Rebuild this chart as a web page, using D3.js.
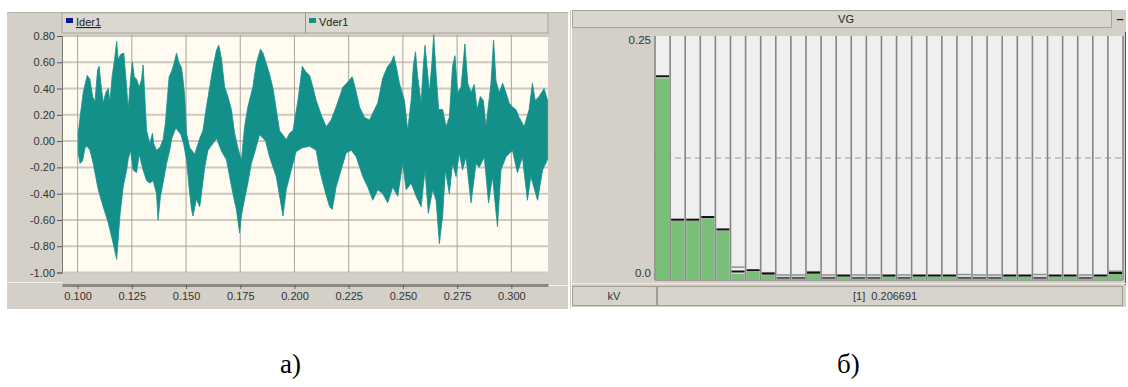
<!DOCTYPE html>
<html><head><meta charset="utf-8">
<script src="https://cdn.jsdelivr.net/npm/d3@7"></script>
<style>body{margin:0;background:#fff;} svg{display:block;font-family:"Liberation Sans",Arial,sans-serif;}</style>
</head><body><svg id="c" width="1128" height="387"></svg>
<script>
// ---------- left chart (a): waveform envelope ----------
const upperT=[0.1003,0.1011,0.1026,0.1044,0.1057,0.1069,0.1080,0.1092,0.1099,0.1107,0.1118,0.1130,0.1141,0.1149,0.1159,0.1172,0.1180,0.1187,0.1198,0.1213,0.1226,0.1233,0.1245,0.1253,0.1261,0.1272,0.1284,0.1295,0.1302,0.1310,0.1318,0.1333,0.1345,0.1351,0.1364,0.1379,0.1394,0.1405,0.1413,0.1422,0.1433,0.1443,0.1456,0.1466,0.1479,0.1486,0.1494,0.1502,0.1517,0.1540,0.1563,0.1578,0.1594,0.1609,0.1624,0.1640,0.1651,0.1663,0.1678,0.1693,0.1709,0.1724,0.1739,0.1755,0.1770,0.1785,0.1808,0.1824,0.1843,0.1855,0.1870,0.1885,0.1901,0.1916,0.1931,0.1954,0.1962,0.1977,0.1993,0.2016,0.2036,0.2051,0.2070,0.2085,0.2100,0.2123,0.2146,0.2169,0.2192,0.2223,0.2246,0.2266,0.2281,0.2300,0.2323,0.2346,0.2369,0.2384,0.2407,0.2430,0.2446,0.2458,0.2469,0.2484,0.2507,0.2522,0.2538,0.2548,0.2558,0.2568,0.2584,0.2594,0.2602,0.2611,0.2622,0.2634,0.2642,0.2653,0.2665,0.2683,0.2699,0.2714,0.2729,0.2740,0.2752,0.2768,0.2786,0.2799,0.2814,0.2829,0.2842,0.2857,0.2871,0.2883,0.2906,0.2918,0.2929,0.2944,0.2960,0.2975,0.2990,0.3005,0.3021,0.3036,0.3059,0.3082,0.3097,0.3110,0.3128,0.3151,0.3167];
const upperV=[0.06,0.18,0.37,0.50,0.47,0.34,0.30,0.54,0.57,0.44,0.29,0.37,0.40,0.30,0.49,0.64,0.76,0.62,0.66,0.67,0.41,0.24,0.49,0.60,0.49,0.47,0.41,0.47,0.58,0.34,0.08,-0.02,0.06,-0.02,-0.07,-0.05,0.01,0.14,0.31,0.49,0.53,0.58,0.67,0.60,0.56,0.47,0.34,0.06,-0.05,-0.10,0.02,0.08,0.26,0.41,0.56,0.69,0.73,0.63,0.41,0.34,0.24,0.06,-0.05,-0.15,0.11,0.26,0.41,0.59,0.70,0.67,0.59,0.51,0.40,0.24,0.08,0.03,0.01,0.06,0.08,0.31,0.57,0.53,0.50,0.41,0.31,0.20,0.11,0.16,0.26,0.41,0.45,0.49,0.40,0.26,0.18,0.16,0.24,0.29,0.48,0.57,0.60,0.65,0.57,0.44,0.31,0.08,0.31,0.57,0.68,0.49,0.29,0.57,0.73,0.57,0.37,0.60,0.81,0.51,0.24,0.24,0.11,0.18,0.57,0.65,0.37,0.41,0.74,0.44,0.37,0.43,0.24,0.34,0.31,0.11,0.44,0.77,0.46,0.37,0.44,0.37,0.29,0.26,0.24,0.18,0.11,0.24,0.44,0.31,0.34,0.40,0.31];
const lowerT=[0.1003,0.1011,0.1023,0.1034,0.1044,0.1057,0.1072,0.1095,0.1118,0.1141,0.1157,0.1167,0.1180,0.1187,0.1195,0.1210,0.1226,0.1233,0.1244,0.1256,0.1272,0.1284,0.1302,0.1318,0.1333,0.1348,0.1364,0.1371,0.1382,0.1394,0.1410,0.1425,0.1434,0.1453,0.1476,0.1490,0.1502,0.1514,0.1525,0.1532,0.1548,0.1563,0.1571,0.1586,0.1601,0.1623,0.1641,0.1664,0.1686,0.1701,0.1716,0.1732,0.1747,0.1755,0.1770,0.1785,0.1801,0.1816,0.1839,0.1867,0.1885,0.1916,0.1947,0.1962,0.1985,0.2008,0.2037,0.2070,0.2100,0.2116,0.2139,0.2162,0.2174,0.2192,0.2215,0.2238,0.2262,0.2285,0.2315,0.2338,0.2361,0.2384,0.2407,0.2430,0.2453,0.2476,0.2499,0.2515,0.2538,0.2561,0.2584,0.2602,0.2617,0.2637,0.2653,0.2668,0.2683,0.2696,0.2714,0.2729,0.2745,0.2760,0.2775,0.2791,0.2814,0.2837,0.2852,0.2875,0.2895,0.2913,0.2936,0.2952,0.2975,0.3005,0.3028,0.3051,0.3074,0.3090,0.3121,0.3144,0.3167];
const lowerV=[-0.09,-0.17,-0.15,-0.05,-0.04,-0.07,-0.17,-0.37,-0.50,-0.62,-0.73,-0.80,-0.90,-0.75,-0.57,-0.35,-0.22,-0.14,-0.07,-0.22,-0.24,-0.10,-0.22,-0.30,-0.32,-0.30,-0.40,-0.60,-0.42,-0.32,-0.17,-0.07,0.02,0.10,0.05,-0.03,-0.14,-0.35,-0.52,-0.57,-0.44,-0.50,-0.40,-0.20,-0.07,-0.02,0.02,-0.08,-0.14,-0.27,-0.40,-0.52,-0.70,-0.57,-0.44,-0.32,-0.17,-0.09,0.05,0.00,-0.12,-0.27,-0.57,-0.37,-0.22,-0.08,-0.05,-0.04,-0.07,-0.22,-0.37,-0.50,-0.52,-0.35,-0.22,-0.09,-0.07,-0.12,-0.27,-0.35,-0.45,-0.37,-0.40,-0.47,-0.35,-0.42,-0.17,-0.37,-0.32,-0.42,-0.50,-0.22,-0.55,-0.37,-0.45,-0.78,-0.57,-0.22,-0.40,-0.17,-0.27,-0.09,-0.22,-0.12,-0.47,-0.17,-0.20,-0.12,-0.47,-0.27,-0.65,-0.22,-0.12,-0.07,-0.24,-0.12,-0.45,-0.27,-0.45,-0.22,-0.14];
const xTicks=[0.100,0.125,0.150,0.175,0.200,0.225,0.250,0.275,0.300];
const yTicks=[0.8,0.6,0.4,0.2,0.0,-0.2,-0.4,-0.6,-0.8,-1.0];
const legendA=["Ider1","Vder1"];

// ---------- right chart (b): harmonic spectrum ----------
const harmonics=[1,2,3,4,5,6,7,8,9,10,11,12,13,14,15,16,17,18,19,20,21,22,23,24,25,26,27,28,29,30,31];
const harmVal=[0.2067,0.0605,0.0605,0.0632,0.0505,0.0065,0.0085,0.0050,0.0015,0.0015,0.0065,0.0015,0.0038,0.0015,0.0015,0.0038,0.0015,0.0036,0.0036,0.0036,0.0015,0.0015,0.0015,0.0036,0.0036,0.0015,0.0036,0.0036,0.0015,0.0036,0.0062];
const harmMax=[0.2087,0.0618,0.0618,0.0645,0.0518,0.0087,0.0100,0.0065,0.0022,0.0022,0.0075,0.0022,0.0046,0.0022,0.0022,0.0046,0.0022,0.0046,0.0046,0.0046,0.0022,0.0022,0.0022,0.0046,0.0046,0.0022,0.0046,0.0046,0.0022,0.0046,0.0072];
const harmPrev=[null,null,null,null,null,0.0132,null,0.0075,0.0052,0.0052,0.0085,0.0052,null,0.0052,0.0052,null,0.0052,null,null,null,0.0056,0.0052,0.0052,null,null,0.0056,null,null,0.0052,null,0.0090];
const yTicksB=[0.25,0.0];
const yTickLabelsB=["0.25","0.0"];
const unitLabel="kV";
const readout="[1]  0.206691";
const titleB="VG";
const captions=["а)","б)"];

const svg=d3.select("#c");
const GRAY="#d4d0c8", TEAL="#13908a";

// ===== Panel A =====
svg.append("rect").attr("x",7).attr("y",12).attr("width",561).attr("height",297).attr("fill",GRAY);
svg.append("line").attr("x1",7).attr("x2",568).attr("y1",12.5).attr("y2",12.5).attr("stroke","#b8b4ac");
const pa={l:62,r:548,t:35,b:272.5};
const x=d3.scaleLinear().domain([0.0928,0.3169]).range([pa.l,pa.r]);
const y=d3.scaleLinear().domain([-1.0,0.8]).range([pa.b,36]);

// legend bar
svg.append("rect").attr("x",62).attr("y",13).attr("width",486).attr("height",20).attr("fill","#dbd8d1").attr("stroke","#aaa69e");
svg.append("line").attr("x1",305.5).attr("x2",305.5).attr("y1",13).attr("y2",33).attr("stroke","#9a968e");
svg.append("rect").attr("x",66).attr("y",18).attr("width",7).attr("height",5).attr("fill","#0a1a8c");
svg.append("text").attr("x",76).attr("y",26).attr("font-size",11).attr("fill","#222").attr("text-decoration","underline").text(legendA[0]);
svg.append("rect").attr("x",309).attr("y",18).attr("width",7).attr("height",5).attr("fill",TEAL);
svg.append("text").attr("x",319).attr("y",26).attr("font-size",11).attr("fill","#222").text(legendA[1]);

// plot bg
svg.append("rect").attr("x",pa.l).attr("y",pa.t).attr("width",pa.r-pa.l).attr("height",pa.b-pa.t).attr("fill","#fffbf0");
// grid
svg.append("g").selectAll("line").data(yTicks).join("line")
  .attr("x1",pa.l).attr("x2",pa.r).attr("y1",d=>y(d)).attr("y2",d=>y(d))
  .attr("stroke","#cfcac0").attr("stroke-width",2);
svg.append("g").selectAll("line").data(xTicks).join("line")
  .attr("x1",d=>x(d)).attr("x2",d=>x(d)).attr("y1",pa.t).attr("y2",pa.b)
  .attr("stroke","#a9a59c").attr("stroke-width",1);

// waveform band
const pts=upperT.map((t,i)=>[t,upperV[i]]).concat(lowerT.map((t,i)=>[t,lowerV[i]]).reverse());
const line=d3.line().x(d=>x(d[0])).y(d=>y(d[1]));
svg.append("path").attr("d",line(pts)+"Z").attr("fill",TEAL).attr("stroke",TEAL).attr("stroke-width",0.8).attr("stroke-linejoin","miter");

// y axis
const ya=svg.append("g").attr("transform",`translate(${pa.l},0)`)
  .call(d3.axisLeft(y).tickValues(yTicks).tickFormat(d=>d.toFixed(2)).tickSize(5).tickPadding(2));
ya.select(".domain").attr("stroke","#777");
ya.selectAll(".tick line").attr("stroke","#555");
ya.selectAll("text").attr("font-size",11).attr("fill","#333").attr("font-family","Liberation Sans, Arial, sans-serif");

// bottom axis band
svg.append("line").attr("x1",7).attr("x2",62).attr("y1",282.5).attr("y2",282.5).attr("stroke","#f4f2ee");
svg.append("line").attr("x1",548).attr("x2",568).attr("y1",285.5).attr("y2",285.5).attr("stroke","#f4f2ee");
const xa=svg.append("g").attr("transform","translate(0,285)")
  .call(d3.axisBottom(x).tickValues(xTicks).tickFormat(d=>d.toFixed(3)).tickSize(4).tickSizeOuter(0).tickPadding(3));
xa.select(".domain").attr("stroke","#8c8983").attr("stroke-width",3);
xa.selectAll(".tick line").attr("stroke","#666");
xa.selectAll("text").attr("font-size",11).attr("fill","#333").attr("font-family","Liberation Sans, Arial, sans-serif");

// ===== Panel B =====
svg.append("line").attr("x1",570.5).attr("x2",570.5).attr("y1",10).attr("y2",308).attr("stroke","#cfcfcf");
svg.append("rect").attr("x",572).attr("y",10).attr("width",554).attr("height",297).attr("fill",GRAY);
svg.append("rect").attr("x",572.5).attr("y",10.5).attr("width",539).attr("height",17).attr("fill","#d9d6cf").attr("stroke","#a8a49c");
svg.append("text").attr("x",846).attr("y",23).attr("text-anchor","middle").attr("font-size",11).attr("fill","#222").text(titleB);
svg.append("text").attr("x",1120).attr("y",23).attr("text-anchor","middle").attr("font-size",13).attr("font-weight","bold").attr("fill","#222").text("–");
svg.append("line").attr("x1",1125.5).attr("x2",1125.5).attr("y1",32).attr("y2",285).attr("stroke","#555");

const pb={l:655,r:1123,t:36,b:280};
const xb=d3.scaleBand().domain(harmonics).range([pb.l,pb.r]).paddingInner(0).paddingOuter(0);
const yb=d3.scaleLinear().domain([0,0.25]).range([pb.b,pb.t]);
const bw=xb.bandwidth();

svg.append("g").selectAll("rect").data(harmonics).join("rect")
  .attr("x",d=>xb(d)).attr("y",pb.t).attr("width",bw).attr("height",pb.b-pb.t).attr("fill","#efefef");
svg.append("line").attr("x1",pb.l).attr("x2",pb.r).attr("y1",yb(0.125)).attr("y2",yb(0.125))
  .attr("stroke","#9a9a9a").attr("stroke-dasharray","6,4").attr("stroke-width",1);
// green bars
svg.append("g").selectAll("rect").data(harmonics).join("rect")
  .attr("x",d=>xb(d)+1).attr("width",bw-2)
  .attr("y",(d,i)=>yb(harmVal[i])).attr("height",(d,i)=>yb(0)-yb(harmVal[i]))
  .attr("fill","#79bf78");
// previous-value marks (gray)
svg.append("g").selectAll("rect").data(harmonics.filter((d,i)=>harmPrev[i]!==null)).join("rect")
  .attr("x",d=>xb(d)+1).attr("width",bw-2)
  .attr("y",d=>yb(harmPrev[d-1])-0.75).attr("height",1.5).attr("fill","#8f8f8f");
// max marks (black)
svg.append("g").selectAll("rect").data(harmonics).join("rect")
  .attr("x",d=>xb(d)+1).attr("width",bw-2)
  .attr("y",(d,i)=>yb(harmMax[i])-1).attr("height",2)
  .attr("fill",(d,i)=>harmVal[i]<0.002?"#555":"#111");
// separators
const seps=harmonics.map(d=>xb(d)).concat([pb.r]);
svg.append("g").selectAll("line").data(seps).join("line")
  .attr("x1",d=>d).attr("x2",d=>d).attr("y1",pb.t).attr("y2",pb.b)
  .attr("stroke","#858585").attr("stroke-width",1.6);
svg.append("line").attr("x1",pb.l).attr("x2",pb.r).attr("y1",pb.b+0.5).attr("y2",pb.b+0.5).attr("stroke","#9a9a9a");

// y labels (0.25 sits just below the top, 0.0 just above the base)
const labOff=[8,-3];
svg.append("g").selectAll("text").data(yTicksB).join("text")
  .attr("x",651).attr("y",(d,i)=>yb(d)+labOff[i]).attr("text-anchor","end").attr("font-size",11.5).attr("fill","#333")
  .text((d,i)=>yTickLabelsB[i]);

// status bar
svg.append("line").attr("x1",572).attr("x2",1126).attr("y1",283.5).attr("y2",283.5).attr("stroke","#efede8");
svg.append("rect").attr("x",572.5).attr("y",286.5).attr("width",84).attr("height",19).attr("fill","#d6d3cc").attr("stroke","#a09c94");
svg.append("rect").attr("x",657.5).attr("y",286.5).attr("width",465).attr("height",19).attr("fill","#d6d3cc").attr("stroke","#a09c94");
svg.append("text").attr("x",614).attr("y",300).attr("text-anchor","middle").attr("font-size",11).attr("fill","#333").text(unitLabel);
svg.append("text").attr("x",853).attr("y",300).attr("font-size",11).attr("fill","#333").attr("xml:space","preserve").style("white-space","pre").text(readout);

// captions
svg.append("text").attr("x",280).attr("y",373).attr("font-family","Liberation Serif, Times New Roman, serif").attr("font-size",27).attr("fill","#000").text(captions[0]);
svg.append("text").attr("x",837).attr("y",373).attr("font-family","Liberation Serif, Times New Roman, serif").attr("font-size",27).attr("fill","#000").text(captions[1]);
</script></body></html>
